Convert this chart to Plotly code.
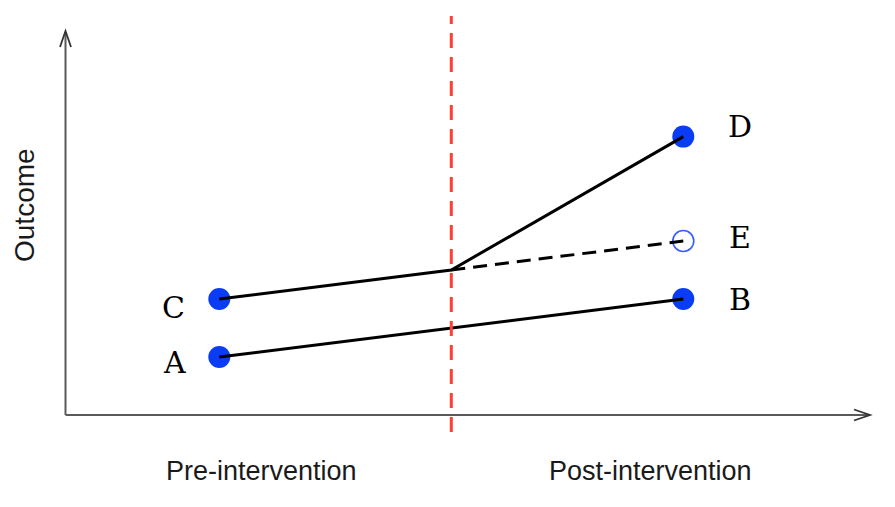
import plotly.graph_objects as go

# ---------------- data ----------------
period_labels = ["Pre-intervention", "Post-intervention"]
x_pre, x_post = 1.0, 2.0
intervention_x = 1.5

control_x = [1.0, 2.0]
control_y = [2.0, 4.0]          # A -> B

treated_x = [1.0, 1.5, 2.0]
treated_y = [4.0, 5.0, 9.6]     # C -> (intervention) -> D

counterfactual_x = [1.5, 2.0]
counterfactual_y = [5.0, 6.0]   # dashed -> E

point_names = ["A", "B", "C", "D"]
point_x = [1.0, 2.0, 1.0, 2.0]
point_y = [2.0, 4.0, 4.0, 9.6]

cf_name = "E"
cf_x = [2.0]
cf_y = [6.0]

# ---------------- pixel helpers (layout) ----------------
W, H = 895, 507
PAGE_OFF = 8                    # default body margin of the html page
XPX0, XUNIT = 219.3, 464.0      # screen pixel of x=1, px per unit
YPX0, YUNIT = 415.0, 29.0       # screen pixel of y=0, px per unit


def px2x(sx):
    return 1.0 + (sx - XPX0) / XUNIT


def py2y(sy):
    return (YPX0 - sy) / YUNIT


fig = go.Figure()

# filled points
fig.add_trace(go.Scatter(
    x=point_x, y=point_y, mode="markers",
    marker=dict(size=22, color="#0a3cf6", line=dict(width=0)),
    hoverinfo="skip", showlegend=False))
# open counterfactual point
fig.add_trace(go.Scatter(
    x=cf_x, y=cf_y, mode="markers",
    marker=dict(size=21, color="rgba(255,255,255,0)", symbol="circle",
                line=dict(width=1.6, color="#3a5cff")),
    hoverinfo="skip", showlegend=False))

# lines (on top of markers)
fig.add_trace(go.Scatter(x=control_x, y=control_y, mode="lines",
                         line=dict(color="black", width=3),
                         hoverinfo="skip", showlegend=False))
fig.add_trace(go.Scatter(x=treated_x, y=treated_y, mode="lines",
                         line=dict(color="black", width=3),
                         hoverinfo="skip", showlegend=False))
fig.add_trace(go.Scatter(x=counterfactual_x, y=counterfactual_y, mode="lines",
                         line=dict(color="black", width=3, dash="14px,8px"),
                         hoverinfo="skip", showlegend=False))

# axes with arrows
axis_col = "#5a5a5a"
shapes = [
    dict(type="line", xref="x", yref="y", x0=px2x(65.5), x1=px2x(869), y0=0, y1=0,
         line=dict(color=axis_col, width=2)),
    dict(type="line", xref="x", yref="y", x0=px2x(65.5), x1=px2x(65.5), y0=0, y1=py2y(32),
         line=dict(color=axis_col, width=2)),
    dict(type="path", xref="x", yref="y",
         path=f"M{px2x(854)},{py2y(409.5)} L{px2x(870)},{py2y(415)} L{px2x(854)},{py2y(420.5)}",
         line=dict(color="#333333", width=1.8)),
    dict(type="path", xref="x", yref="y",
         path=f"M{px2x(60)},{py2y(47)} L{px2x(65.5)},{py2y(31)} L{px2x(71)},{py2y(47)}",
         line=dict(color="#333333", width=1.8)),
    # intervention line
    dict(type="line", xref="x", yref="y", x0=intervention_x, x1=intervention_x,
         y0=py2y(432), y1=py2y(16),
         line=dict(color="#ff3f33", width=3, dash="15px,9px")),
]

annotations = []
letter_font = dict(family="DejaVu Serif", size=30, color="black")
offsets = {"A": (-45, -5), "B": (57, 0), "C": (-46, -8), "D": (57, 10), "E": (57, 4)}
for n, x, y in zip(point_names + [cf_name], point_x + cf_x, point_y + cf_y):
    dx, dy = offsets[n]
    annotations.append(dict(x=x, y=y, xref="x", yref="y", text=n, showarrow=False,
                            xshift=dx, yshift=dy, font=letter_font,
                            xanchor="center", yanchor="middle"))

label_font = dict(family="Liberation Sans, Arial, sans-serif", size=27, color="#1a1a1a")
annotations.append(dict(x=px2x(261), y=py2y(471), xref="x", yref="y", text=period_labels[0],
                        showarrow=False, font=label_font, xanchor="center", yanchor="middle"))
annotations.append(dict(x=px2x(650), y=py2y(471), xref="x", yref="y", text=period_labels[1],
                        showarrow=False, font=label_font, xanchor="center", yanchor="middle"))
annotations.append(dict(x=px2x(24), y=py2y(205), xref="x", yref="y", text="Outcome",
                        showarrow=False, font=dict(label_font, size=28), textangle=-90,
                        xanchor="center", yanchor="middle"))

# the figure sits PAGE_OFF px from the top-left of the page
fig.update_layout(
    width=W, height=H, autosize=False,
    margin=dict(l=0, r=0, t=0, b=0, pad=0),
    paper_bgcolor="white", plot_bgcolor="white",
    xaxis=dict(range=[px2x(PAGE_OFF), px2x(PAGE_OFF + W)], visible=False, fixedrange=True),
    yaxis=dict(range=[py2y(PAGE_OFF + H), py2y(PAGE_OFF)], visible=False, fixedrange=True),
    shapes=shapes, annotations=annotations, showlegend=False,
)

fig.write_html("out.html")
